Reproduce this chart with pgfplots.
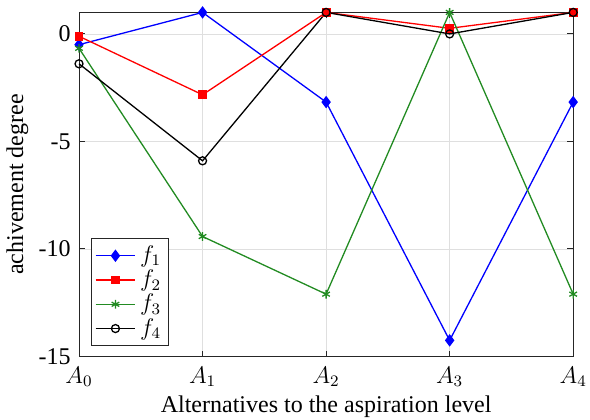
\documentclass[border=0pt]{standalone}
\usepackage{fontspec}
\setmainfont{Liberation Serif}
\usepackage{pgfplots}
\pgfplotsset{compat=1.18}
\definecolor{mgreen}{rgb}{0.1333,0.5451,0.1333}
\begin{document}
\fontsize{12}{14}\selectfont
\begin{tikzpicture}
\useasboundingbox (-39.5pt,-31.5pt) rectangle (255.4pt,178.2pt);
\begin{axis}[
  at={(0,0)}, anchor=south west,
  scale only axis, width=247pt, height=172pt,
  xmin=0, xmax=4, ymin=-15, ymax=1,
  xtick={0,1,2,3,4},
  xticklabels={$A_0$,$A_1$,$A_2$,$A_3$,$A_4$},
  ytick={-15,-10,-5,0},
  yticklabels={-15,-10,-5,0},
  tick align=inside, tick pos=both,
  major tick length=3pt,
  grid=major,
  grid style={gray!25, line width=0.4pt},
  axis line style={black!85, line width=0.5pt},
  tick style={black!85, line width=0.5pt},
  xticklabel style={yshift=-1pt},
  xlabel={Alternatives to the aspiration level},
  ylabel={achivement degree},
  xlabel style={yshift=3.5pt},
  ylabel style={yshift=-3pt},
  clip=false,
  legend style={at={(rel axis cs:0.025,0.03)}, anchor=south west,
    draw=black!85, line width=0.5pt, font=\fontsize{12}{14}\selectfont,
    row sep=-2pt, inner sep=1.5pt},
  legend cell align=left,
  legend image code/.code={
    \draw[mark repeat=2,mark phase=2] plot coordinates {(0cm,0cm) (0.35cm,0cm) (0.7cm,0cm)};},
]
\addplot[blue, line width=0.65pt, mark=diamond*, mark size=2.6pt, mark options={fill=blue}]
  coordinates {(0,-0.5) (1,1) (2,-3.17) (3,-14.25) (4,-3.17)};
\addlegendentry{$f_1$}
\addplot[red, line width=0.65pt, mark=square*, mark size=1.9pt, mark options={fill=red}]
  coordinates {(0,-0.11) (1,-2.83) (2,1) (3,0.26) (4,1)};
\addlegendentry{$f_2$}
\addplot[mgreen, line width=0.65pt, mark=asterisk, mark size=2.2pt]
  coordinates {(0,-0.67) (1,-9.42) (2,-12.1) (3,1) (4,-12.1)};
\addlegendentry{$f_3$}
\addplot[black, line width=0.65pt, mark=o, mark size=2pt]
  coordinates {(0,-1.39) (1,-5.9) (2,1) (3,0) (4,1)};
\addlegendentry{$f_4$}
\end{axis}
\end{tikzpicture}
\end{document}
